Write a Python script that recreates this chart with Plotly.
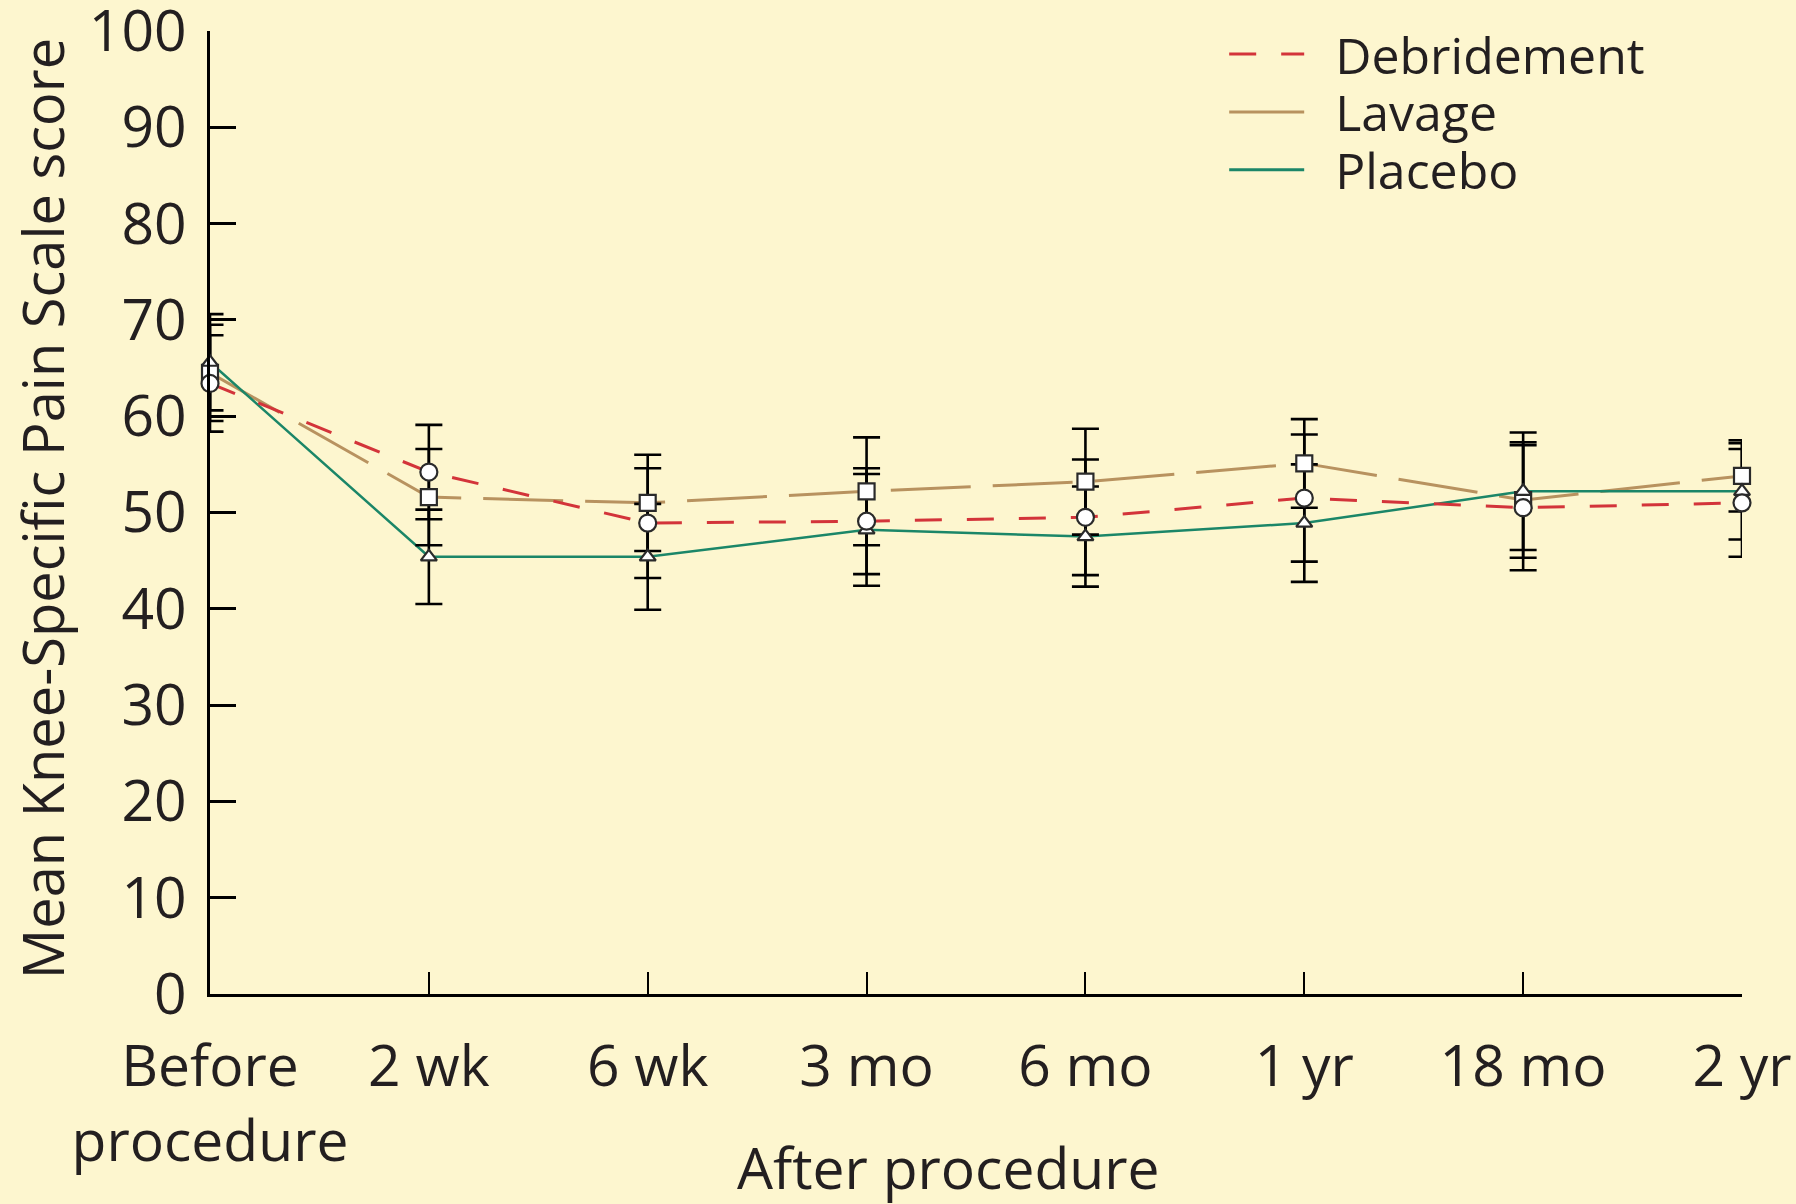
import plotly.graph_objects as go

categories = ["Before<br>procedure", "2 wk", "6 wk", "3 mo", "6 mo", "1 yr", "18 mo", "2 yr"]

debridement = [63.4, 54.2, 48.9, 49.1, 49.5, 51.5, 50.5, 51.0]
lavage = [64.5, 51.6, 51.0, 52.2, 53.2, 55.1, 51.3, 53.8]
placebo = [65.6, 45.4, 45.4, 48.2, 47.5, 48.9, 52.2, 52.2]

debridement_err = [5.0, 4.9, 5.7, 5.5, 6.0, 6.6, 6.5, 5.6]
lavage_err = [5.0, 5.0, 5.0, 5.6, 5.5, 4.6, 6.0, 3.7]
placebo_err = [5.0, 4.9, 5.5, 5.8, 5.2, 6.1, 6.1, 5.0]

y_ticks = [0, 10, 20, 30, 40, 50, 60, 70, 80, 90, 100]

BG = "#FDF6CF"
TXT = "#231F20"
RED = "#D3343A"
TAN = "#B8925F"
GREEN = "#1B8668"
FONT = "Open Sans"
AX_FONT = 57

series = [
    ("Lavage", lavage, lavage_err, TAN, "80px,22px", 3, "square", 16),
    ("Placebo", placebo, placebo_err, GREEN, "solid", 2.5, "triangle-up", 14),
    ("Debridement", debridement, debridement_err, RED, "27px,25px", 3, "circle", 17),
]

fig = go.Figure()

# connecting lines
for name, vals, err, col, dash, lw, sym, sz in series:
    fig.add_trace(go.Scatter(
        x=categories, y=vals, mode="lines", showlegend=False,
        line=dict(color=col, width=lw, dash=dash), cliponaxis=False,
        hoverinfo="skip"))

# error bars
for name, vals, err, col, dash, lw, sym, sz in series:
    fig.add_trace(go.Scatter(
        x=categories, y=vals, mode="markers", showlegend=False,
        marker=dict(size=1, color="rgba(0,0,0,0)"),
        error_y=dict(type="data", array=err, visible=True, color="#000000",
                     thickness=2.6, width=13.5),
        cliponaxis=False, hoverinfo="skip"))

# markers
for name, vals, err, col, dash, lw, sym, sz in series:
    fig.add_trace(go.Scatter(
        x=categories, y=vals, mode="markers", showlegend=False, name=name,
        marker=dict(symbol=sym, size=sz, color="white",
                    line=dict(color="#2a2a2a", width=2.2)),
        cliponaxis=False))

# legend entries (one legend box per row)
legend_items = [("Debridement", RED, "27px,25px", 3, "legend"),
                ("Lavage", TAN, "solid", 3, "legend2"),
                ("Placebo", GREEN, "solid", 3, "legend3")]
for name, col, dash, lw, lg in legend_items:
    fig.add_trace(go.Scatter(x=[None], y=[None], mode="lines",
                             name="\u00a0\u00a0" + name, legend=lg,
                             line=dict(color=col, width=lw, dash=dash)))

legend_style = dict(xanchor="left", yanchor="middle", bgcolor="rgba(0,0,0,0)",
                    font=dict(size=50, color=TXT, family=FONT), itemwidth=75)

fig.update_layout(
    width=1796, height=1204,
    paper_bgcolor=BG, plot_bgcolor=BG,
    margin=dict(l=210, r=54, t=31, b=210, autoexpand=False),
    font=dict(family=FONT, size=AX_FONT, color=TXT),
    showlegend=True,
    legend=dict(x=0.662, y=0.976, **legend_style),
    legend2=dict(x=0.662, y=0.916, **legend_style),
    legend3=dict(x=0.662, y=0.856, **legend_style),
    xaxis=dict(
        type="category", range=[0, 7], showgrid=False, zeroline=False,
        showline=True, linecolor="#000000", linewidth=3,
        ticks="inside", ticklen=22, tickwidth=2, tickcolor="#000000",
        tickfont=dict(size=AX_FONT, color=TXT), ticklabelstandoff=21,
        ticklabeloverflow="allow",
    ),
    yaxis=dict(
        range=[0, 100], tickvals=y_ticks, showgrid=False, zeroline=False,
        showline=True, linecolor="#000000", linewidth=3,
        ticks="inside", ticklen=26, tickwidth=2.5, tickcolor="#000000",
        tickfont=dict(size=AX_FONT, color=TXT), ticklabelstandoff=9,
        ticklabeloverflow="allow",
    ),
    annotations=[
        dict(text="Mean Knee-Specific Pain Scale score", xref="paper", yref="paper",
             x=-0.11, y=0.504, xanchor="center", yanchor="middle", textangle=-90,
             showarrow=False, font=dict(size=56, color=TXT)),
        dict(text="After procedure", xref="paper", yref="paper",
             x=0.482, y=-0.18, xanchor="center", yanchor="middle",
             showarrow=False, font=dict(size=AX_FONT, color=TXT)),
    ],
)

fig.write_html("out.html", config={"displayModeBar": False},
               post_script="document.body.style.margin='0';document.body.style.overflow='hidden';")
